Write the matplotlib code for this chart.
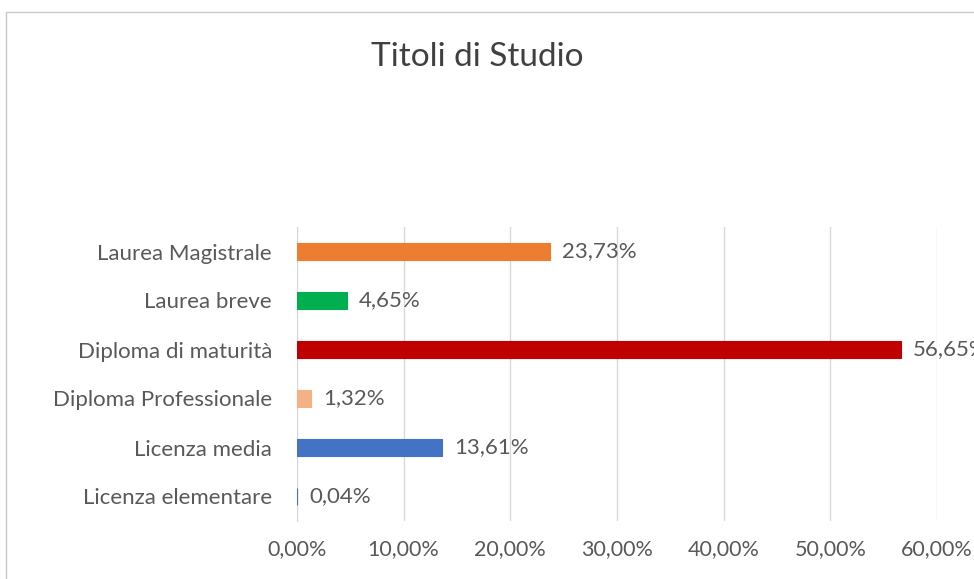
import matplotlib.pyplot as plt
from matplotlib.patches import Rectangle

# Titoli di studio, percentuali
categories = [
    "Licenza elementare",
    "Licenza media",
    "Diploma Professionale",
    "Diploma di maturità",
    "Laurea breve",
    "Laurea Magistrale",
]
values = [0.04, 13.61, 1.32, 56.65, 4.65, 23.73]
colors = ["#4472C4", "#4472C4", "#F4B183", "#C00000", "#00B050", "#ED7D31"]
x_ticks = [0, 10, 20, 30, 40, 50, 60]

TEXT = "#595959"
GRID = "#d9d9d9"

plt.rcParams["font.family"] = ["Lato", "DejaVu Sans"]


def fmt(v):
    return f"{v:.2f}".replace(".", ",") + "%"


fig = plt.figure(figsize=(9.74, 5.79), dpi=100)
ax = fig.add_axes([297 / 974, 1 - 521 / 579, 640 / 974, 294 / 579])

# chart frame (left and top edges visible)
fig.patches.append(Rectangle((6 / 974, -0.1), 1.2, 1 - 12 / 579 + 0.1,
                             transform=fig.transFigure, fill=False,
                             edgecolor="#c8c8c8", linewidth=1.0, clip_on=False))

y = list(range(len(categories)))
ax.barh(y, values, height=0.33, color=colors, edgecolor=colors,
        linewidth=0.8, zorder=3)

for yi, v in zip(y, values):
    ax.text(v + 1.1, yi, fmt(v), va="center", ha="left", fontsize=16,
            color=TEXT, clip_on=False, zorder=4)

ax.set_xlim(0, 60)
ax.set_ylim(-0.5, 5.5)
ax.set_xticks(x_ticks)
ax.set_xticklabels([fmt(t) for t in x_ticks], fontsize=15.5, color=TEXT)
ax.set_yticks(y)
ax.set_yticklabels(categories, fontsize=16, color=TEXT)
ax.tick_params(axis="both", length=0)
ax.tick_params(axis="x", pad=13)
ax.tick_params(axis="y", pad=18)

ax.grid(axis="x", color=GRID, linewidth=1.0, zorder=0)
for side in ["top", "right", "bottom"]:
    ax.spines[side].set_visible(False)
ax.spines["left"].set_color(GRID)
ax.spines["left"].set_zorder(1)

fig.text(477 / 974, 1 - 57 / 579, "Titoli di Studio", ha="center", va="center",
         fontsize=24, color="#404040")

fig.savefig("out.png", dpi=100)
